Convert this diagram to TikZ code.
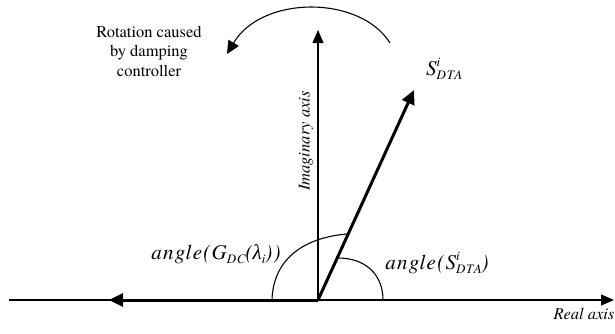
\documentclass[tikz,border=0pt]{standalone}
\usepackage{fontspec}
\setmainfont{texgyretermes}[Extension=.otf,UprightFont=*-regular,ItalicFont=*-italic,BoldFont=*-bold,BoldItalicFont=*-bolditalic]
\newfontfamily\tnri{texgyretermes}[Extension=.otf,UprightFont=*-italic,LetterSpace=6]
\newfontfamily\greekf{Liberation Serif}
\usetikzlibrary{arrows.meta}
\newcommand{\lowsub}[1]{\raisebox{-0.45ex}{\fontsize{13}{13}\selectfont #1}}
\newcommand{\supsub}[2]{\makebox[0pt][l]{\raisebox{1.0ex}{\fontsize{13}{13}\selectfont #1}}\raisebox{-0.5ex}{\fontsize{13}{13}\selectfont #2}}
\tikzset{
  thinline/.style={line width=1.1pt},
  thickvec/.style={line width=3pt,-{Triangle[length=14pt,width=13pt]}},
  axisarrow/.style={line width=1.1pt,-{Triangle[length=13pt,width=11pt]}},
  lbl/.style={font=\fontsize{16.5}{19.5}\selectfont,inner sep=0pt},
  ilbl/.style={font=\fontsize{16.5}{19.5}\selectfont\itshape,inner sep=0pt},
  mlbl/.style={font=\tnri\fontsize{21}{23}\selectfont,inner sep=0pt}
}
\begin{document}
\begin{tikzpicture}[x=1pt,y=-1pt]
\useasboundingbox (0,0) rectangle (615,333);
\coordinate (O) at (318,300);
\coordinate (realL) at (9,300);
\coordinate (realR) at (614,300);
\coordinate (imagT) at (318,30);
\coordinate (Stip) at (414,90);
\coordinate (Gtip) at (109,300);
\coordinate (rotS) at (390,43);
\coordinate (rotE) at (227,54);
\coordinate (arcGs) at (272,300);
\coordinate (arcGe) at (347,234);
\coordinate (arcSs) at (383,300);
\coordinate (arcSe) at (338,258);
% axes
\draw[thinline] (realL) -- (O);
\draw[axisarrow] (O) -- (realR);
\draw[axisarrow] (O) -- (imagT);
% angle arcs
\draw[thinline] (arcGs) .. controls (273,262) and (300,238) .. (arcGe);
\draw[thinline] (arcSs) .. controls (383,275) and (366,258) .. (arcSe);
% vectors
\draw[thickvec] (O) -- (Gtip);
\draw[thickvec] (O) -- (Stip);
% rotation arrow
\draw[thinline,-{Triangle[length=13pt,width=12pt]}] (rotS) .. controls (360,-5) and (262,-5) .. (rotE);
% labels
\node[lbl,align=center] (rottext) at (149,51) {Rotation caused\\by damping\\controller};
\node[ilbl,rotate=90] (imaglbl) at (306,141) {Imaginary axis};
\node[ilbl] (reallbl) at (584,314) {Real axis};
\node[mlbl,anchor=west] (Slbl) at (426,69) {S\supsub{i}{DTA}};
\node[mlbl] (Glbl) at (216,254) {angle(G\lowsub{DC}({\greekf\itshape λ}\lowsub{i}))};
\node[mlbl] (aSlbl) at (437,263) {angle(S\supsub{i}{DTA})};
\end{tikzpicture}
\end{document}
